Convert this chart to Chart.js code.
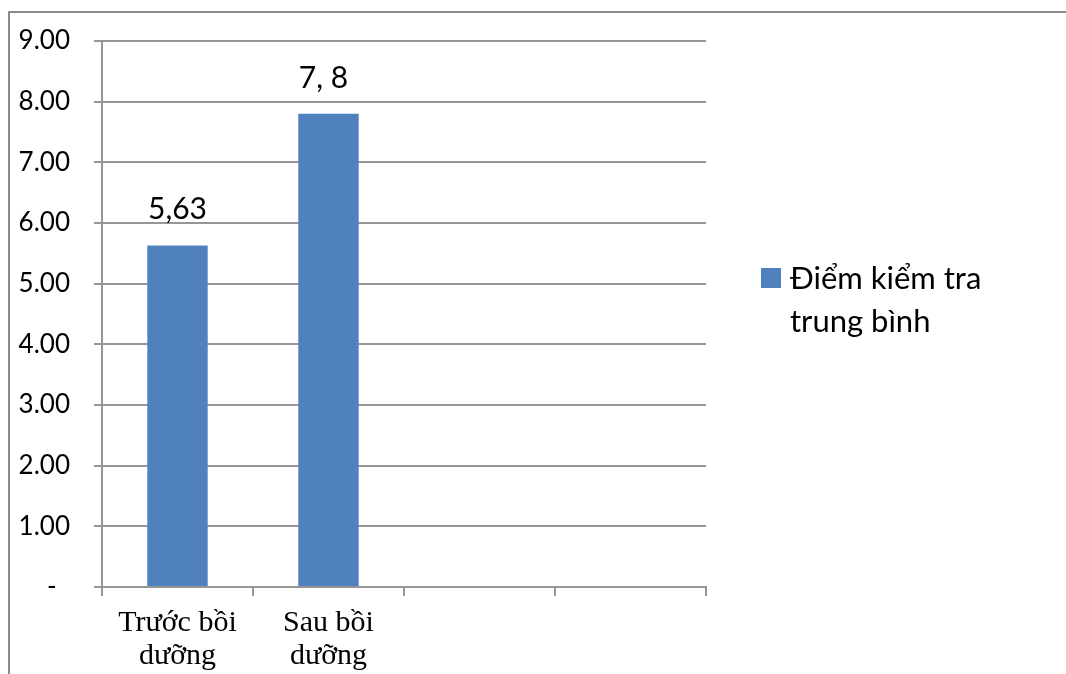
<!DOCTYPE html>
<html>
<head>
<meta charset="utf-8">
<script src="https://cdn.jsdelivr.net/npm/chart.js@4.4.1/dist/chart.umd.min.js"></script>
<style>
  html, body { margin: 0; padding: 0; background: #fff; overflow: hidden; }
  #wrap { position: relative; width: 1066px; height: 674px; }
  #frame { position: absolute; left: 8px; top: 11px; width: 1100px; height: 700px;
           border-left: 2px solid #8a8a8a; border-top: 2px solid #8a8a8a; pointer-events: none; }
  canvas { position: absolute; left: 0; top: 0; }
</style>
</head>
<body>
<div id="wrap">
  <canvas id="myChart" width="1066" height="674"></canvas>
  <div id="frame"></div>
</div>
<script>
// du lieu
const categories = [['Trước bồi', 'dưỡng'], ['Sau bồi', 'dưỡng'], '', ''];
const seriesName = 'Điểm kiểm tra trung bình';
const seriesValues = [5.63, 7.8, null, null];
const dataLabels = ['5,63', '7, 8'];
const yTickLabels = ['-  ', '1.00', '2.00', '3.00', '4.00', '5.00', '6.00', '7.00', '8.00', '9.00'];

const barColor = '#4f81bd';
const gridColor = '#969696';

// labels boven de staven
const barLabels = {
  id: 'barLabels',
  afterDatasetsDraw(chart) {
    const c = chart.ctx;
    const meta = chart.getDatasetMeta(0);
    c.save();
    c.font = '30px Lato, "Noto Sans", sans-serif';
    c.fillStyle = '#000';
    c.textAlign = 'center';
    c.textBaseline = 'alphabetic';
    meta.data.forEach((bar, i) => {
      if (dataLabels[i] == null || seriesValues[i] == null) return;
      c.fillText(dataLabels[i], bar.x - (i === 1 ? 5 : 0), bar.y - 26);
    });
    c.restore();
  }
};

// legenda rechts, twee regels
const sideLegend = {
  id: 'sideLegend',
  afterDraw(chart) {
    const c = chart.ctx;
    const ds = chart.data.datasets[0];
    c.save();
    c.fillStyle = ds.backgroundColor;
    c.fillRect(761, 268, 20, 20);
    c.fillStyle = '#000';
    c.font = '31px Lato, "Noto Sans", sans-serif';
    c.textAlign = 'left';
    c.textBaseline = 'alphabetic';
    const words = ds.label.split(' ');
    c.fillText(words.slice(0, 3).join(' '), 790, 289);
    c.fillText(words.slice(3).join(' '), 790, 332);
    c.restore();
  }
};

new Chart(document.getElementById('myChart'), {
  type: 'bar',
  data: {
    labels: categories,
    datasets: [{
      label: seriesName,
      data: seriesValues,
      backgroundColor: barColor,
      borderWidth: 0,
      categoryPercentage: 0.8,
      barPercentage: 0.5
    }]
  },
  options: {
    responsive: false,
    animation: false,
    events: [],
    layout: { padding: { left: 0, right: 360, top: 41, bottom: 0 } },
    plugins: {
      legend: { display: false },
      tooltip: { enabled: false }
    },
    scales: {
      x: {
        grid: { offset: true, drawOnChartArea: false, drawTicks: true, tickLength: 9, color: gridColor, lineWidth: 2 },
        border: { display: true, color: gridColor, width: 2 },
        ticks: {
          color: '#000',
          font: { family: '"Liberation Serif", "Times New Roman", serif', size: 30, lineHeight: 1.1 },
          padding: 11,
          maxRotation: 0,
          autoSkip: false
        },
        afterFit(scale) { scale.height = 87; }
      },
      y: {
        min: 0,
        max: 9,
        grid: { color: gridColor, lineWidth: 2, tickLength: 8 },
        border: { display: true, color: gridColor, width: 2 },
        ticks: {
          stepSize: 1,
          color: '#000',
          font: { family: 'Lato, "Noto Sans", sans-serif', size: 26 },
          padding: 24,
          callback: (v) => yTickLabels[v]
        },
        afterFit(scale) { scale.width = 102; }
      }
    }
  },
  plugins: [barLabels, sideLegend]
});
</script>
</body>
</html>
